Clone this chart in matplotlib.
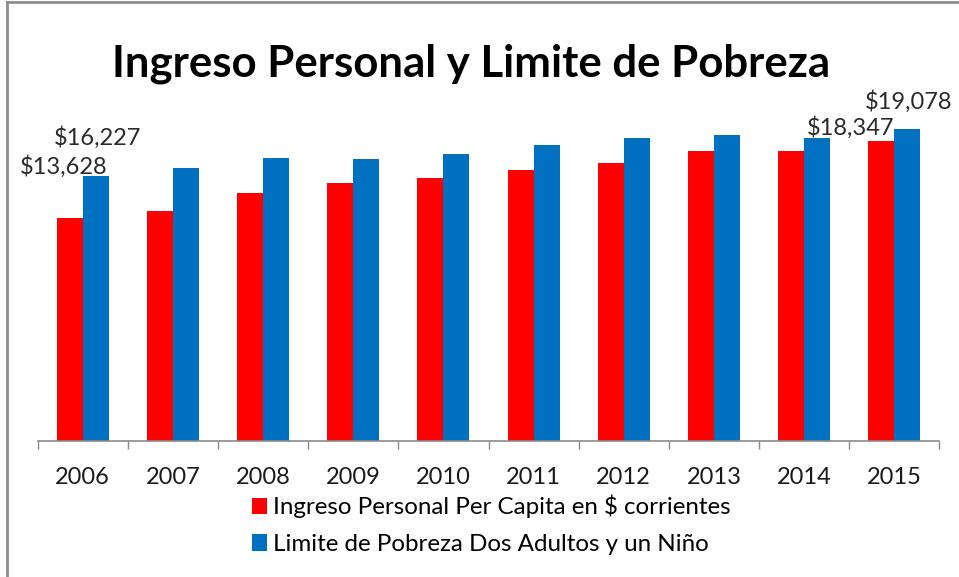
import matplotlib
matplotlib.use("Agg")
import matplotlib.pyplot as plt
import numpy as np
from matplotlib.lines import Line2D
from matplotlib.patches import Patch

years = ["2006", "2007", "2008", "2009", "2010", "2011", "2012", "2013", "2014", "2015"]
ingreso = [13628, 14080, 15160, 15770, 16100, 16570, 17030, 17730, 17750, 18347]
limite = [16227, 16730, 17340, 17260, 17580, 18130, 18520, 18750, 18520, 19078]

name_ingreso = "Ingreso Personal Per Capita en $ corrientes"
name_limite = "Limite de Pobreza Dos Adultos y un Niño"

RED = "#FF0000"
BLUE = "#0070C0"
FONT = ["Lato", "DejaVu Sans"]

W, H = 959, 577
fig = plt.figure(figsize=(W / 100, H / 100), dpi=100)
fig.patch.set_facecolor("white")

# plot area in pixels: x 38..939, baseline at y=441, 61.2 $ per pixel
ax = fig.add_axes([37.7 / W, 1 - 441 / H, (939.3 - 37.7) / W, (20000 / 61.2) / H])

x = np.arange(len(years))
bw = 0.288
b1 = ax.bar(x - bw / 2, ingreso, bw, color=RED, label=name_ingreso)
b2 = ax.bar(x + bw / 2, limite, bw, color=BLUE, label=name_limite)

ax.set_xlim(-0.5, len(years) - 0.5)
ax.set_ylim(0, 20000)

for s in ["top", "right", "left"]:
    ax.spines[s].set_visible(False)
ax.spines["bottom"].set_color("#8a8a8a")
ax.spines["bottom"].set_linewidth(1.2)
ax.set_yticks([])

ax.set_xticks(x)
ax.set_xticklabels(years, fontsize=17, family=FONT, color="#1a1a1a")
ax.tick_params(axis="x", which="major", length=0, pad=18.5)
ax.set_xticks(np.arange(-0.5, len(years)), minor=True)
ax.tick_params(axis="x", which="minor", length=5.5, width=1, color="#8a8a8a", direction="out")

# data labels, only first and last year (moved by hand in the original)
lab_offsets = {(0, 0): (-6, 52), (0, 1): (2, 38), (9, 0): (-31, 14), (9, 1): (1, 28)}
for (i, k), (dx, dy) in lab_offsets.items():
    vals = ingreso if k == 0 else limite
    xc = x[i] - bw / 2 if k == 0 else x[i] + bw / 2
    ax.annotate("${:,.0f}".format(vals[i]), xy=(xc, vals[i]), xytext=(dx, dy),
                textcoords="offset pixels", ha="center", va="center",
                fontsize=17, family=FONT, color="#2a2a2a", annotation_clip=False)

fig.text(471 / W, 1 - 76 / H, "Ingreso Personal y Limite de Pobreza", ha="center", va="baseline",
         fontsize=31.5, fontweight="bold", family=FONT, color="black")

handles = [Patch(facecolor=RED, edgecolor="none"), Patch(facecolor=BLUE, edgecolor="none")]
fig.legend(handles, [name_ingreso, name_limite], loc="upper left",
           bbox_to_anchor=(252 / W, 1 - 495 / H), frameon=False,
           prop={"family": FONT, "size": 17.4}, handlelength=0.62, handleheight=0.69,
           handletextpad=0.25, labelspacing=0.64, borderpad=0, borderaxespad=0)

# chart border (cropped on right and bottom)
fig.add_artist(Line2D([7 / W, 7 / W], [0, 1 - 2 / H], color="#8c8c8c", lw=2, transform=fig.transFigure))
fig.add_artist(Line2D([7 / W, 1], [1 - 2 / H, 1 - 2 / H], color="#8c8c8c", lw=2, transform=fig.transFigure))

fig.savefig("out.png", dpi=100)
